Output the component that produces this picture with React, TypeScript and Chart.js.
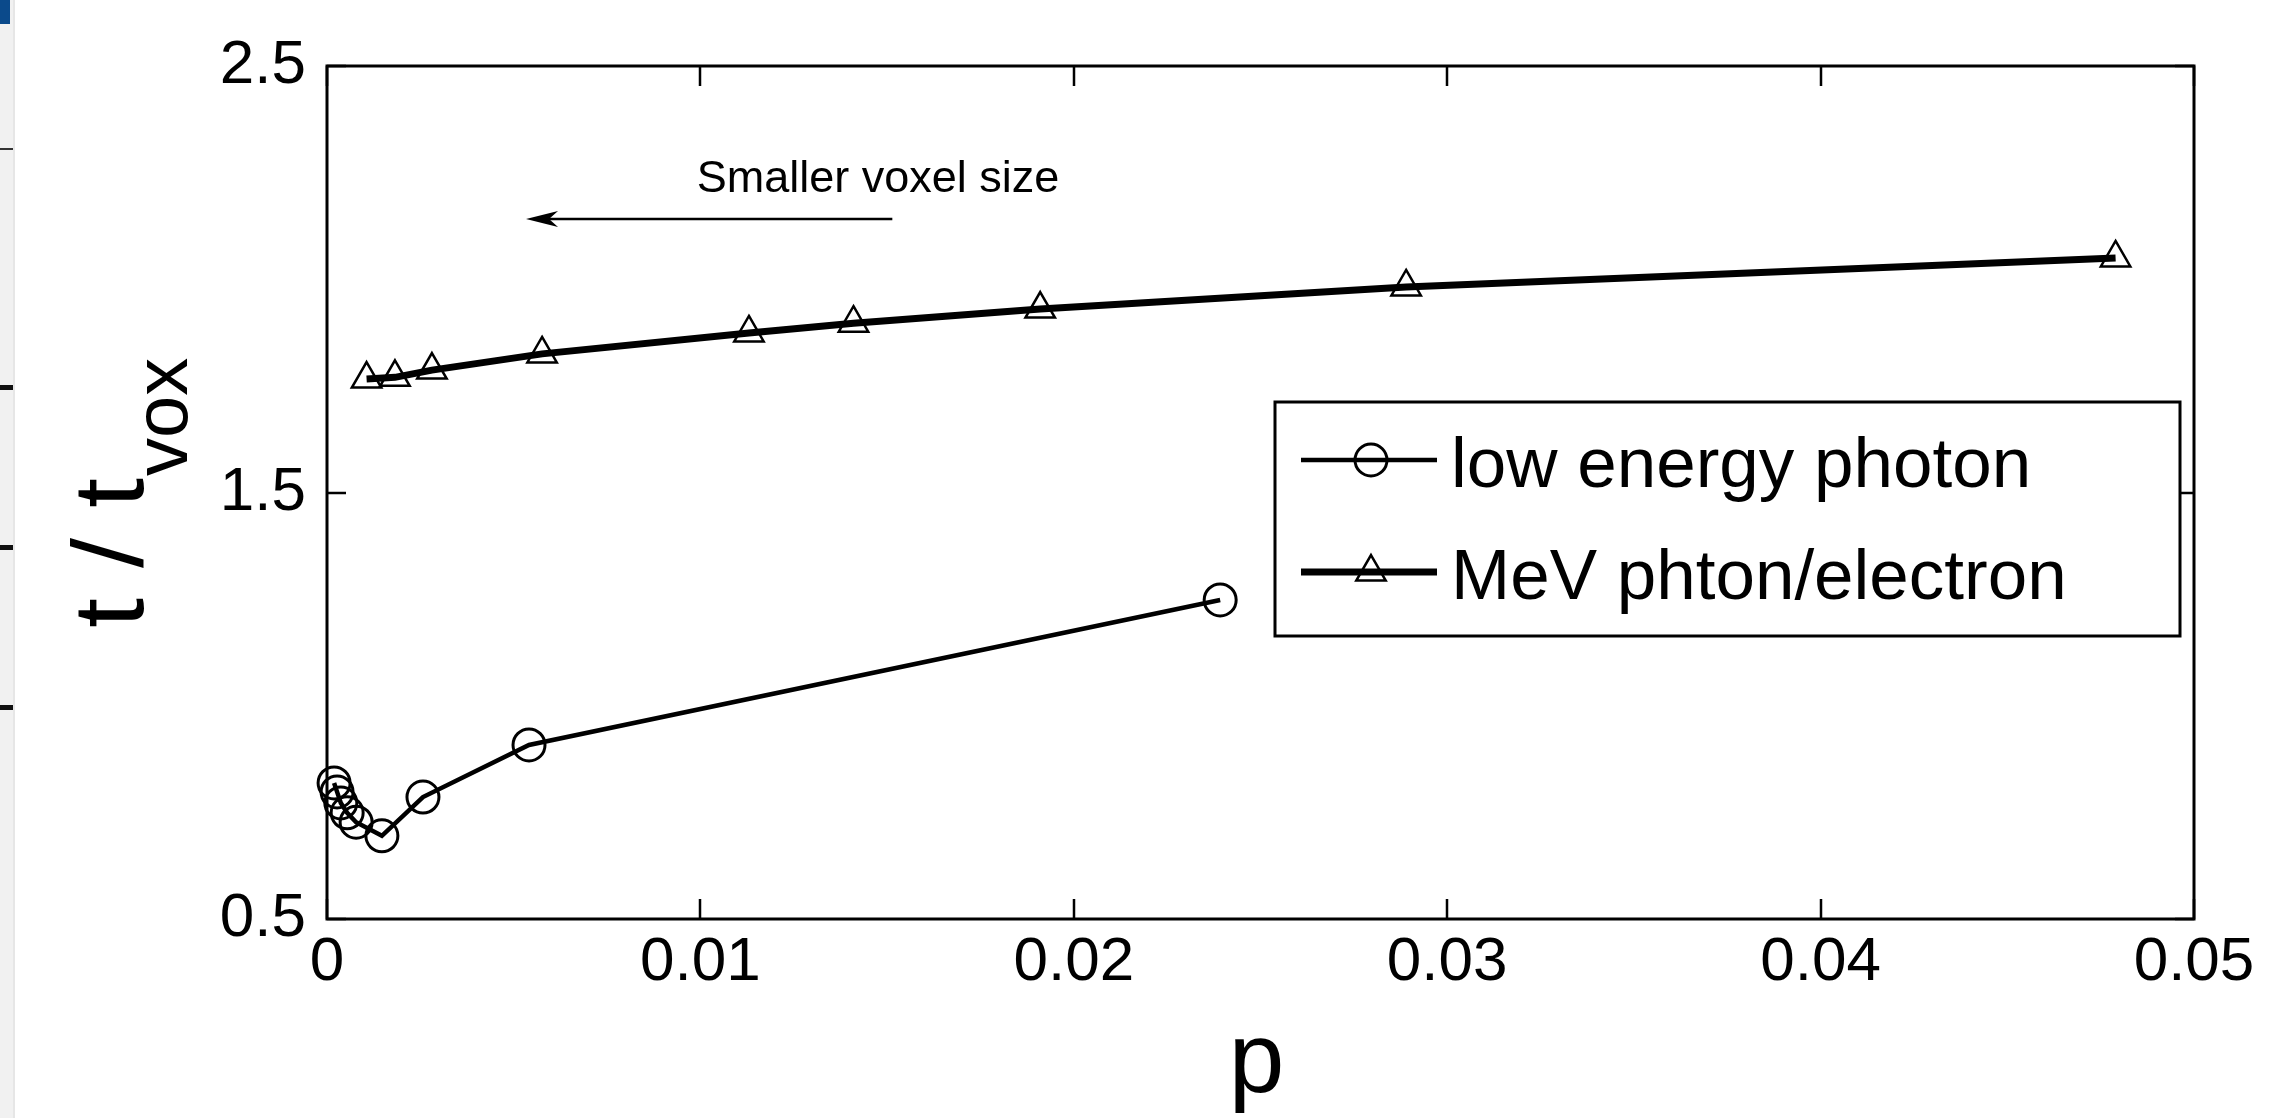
import React, { useEffect, useRef } from "react";
import { Chart, registerables } from "chart.js";

Chart.register(...registerables);

// ---------- data ----------
const lowLabel = "low energy photon";
const lowP = [0.00019, 0.00027, 0.00037, 0.00054, 0.00078, 0.00147, 0.00257, 0.00541, 0.02392];
const lowT = [0.819, 0.798, 0.772, 0.749, 0.727, 0.695, 0.786, 0.908, 1.248];

const mevLabel = "MeV phton/electron";
const mevP = [0.00106, 0.00182, 0.00281, 0.00576, 0.0113, 0.0141, 0.0191, 0.0289, 0.0479];
const mevT = [1.766, 1.77, 1.787, 1.825, 1.874, 1.897, 1.93, 1.982, 2.05];

const xTicks = [0, 0.01, 0.02, 0.03, 0.04, 0.05];
const xTickLabels = ["0", "0.01", "0.02", "0.03", "0.04", "0.05"];
const yTicks = [0.5, 1.5, 2.5];
const yTickLabels = ["0.5", "1.5", "2.5"];

const xTitle = "p";
const yTitleMain = "t / t";
const yTitleSub = "vox";

const noteText = "Smaller voxel size";
const noteAt = [0.0099, 2.205];
const arrowFrom = [0.01514, 2.141];
const arrowTo = [0.00533, 2.141];

const FONT = '"Liberation Sans", Arial, Helvetica, sans-serif';

function drawTriangle(ctx: CanvasRenderingContext2D, x: number, y: number, r: number) {
  const a = (2 * Math.PI) / 3;
  ctx.beginPath();
  ctx.moveTo(x, y - r);
  ctx.lineTo(x + Math.sin(a) * r, y - Math.cos(a) * r);
  ctx.lineTo(x + Math.sin(2 * a) * r, y - Math.cos(2 * a) * r);
  ctx.closePath();
  ctx.stroke();
}

const decorPlugin = {
  id: "decor",
  afterDraw(chart: any) {
    const { ctx, chartArea: a, scales } = chart;
    const xs = scales.x;
    const ys = scales.y;
    ctx.save();
    ctx.strokeStyle = "#000";
    ctx.fillStyle = "#000";

    // frame
    ctx.lineWidth = 3;
    ctx.strokeRect(a.left, a.top, a.right - a.left, a.bottom - a.top);

    // inward ticks
    ctx.lineWidth = 2.5;
    ctx.beginPath();
    xTicks.forEach((v) => {
      const px = Math.round(xs.getPixelForValue(v));
      ctx.moveTo(px, a.bottom);
      ctx.lineTo(px, a.bottom - 20);
      ctx.moveTo(px, a.top);
      ctx.lineTo(px, a.top + 20);
    });
    yTicks.forEach((v) => {
      const py = Math.round(ys.getPixelForValue(v));
      ctx.moveTo(a.left, py);
      ctx.lineTo(a.left + 19, py);
      ctx.moveTo(a.right, py);
      ctx.lineTo(a.right - 19, py);
    });
    ctx.stroke();

    // annotation text + arrow
    ctx.font = `45px ${FONT}`;
    ctx.textAlign = "left";
    ctx.textBaseline = "alphabetic";
    ctx.fillText(noteText, xs.getPixelForValue(noteAt[0]), ys.getPixelForValue(noteAt[1]));

    const ax0 = xs.getPixelForValue(arrowFrom[0]);
    const ay = ys.getPixelForValue(arrowFrom[1]);
    const ax1 = xs.getPixelForValue(arrowTo[0]);
    ctx.lineWidth = 2.5;
    ctx.beginPath();
    ctx.moveTo(ax0, ay);
    ctx.lineTo(ax1 + 20, ay);
    ctx.stroke();
    ctx.beginPath();
    ctx.moveTo(ax1, ay);
    ctx.lineTo(ax1 + 32, ay - 8);
    ctx.lineTo(ax1 + 23, ay);
    ctx.lineTo(ax1 + 32, ay + 8);
    ctx.closePath();
    ctx.fill();

    // legend
    const lx = a.left + 948;
    const ly = a.top + 336;
    const lw = 905;
    const lh = 234;
    ctx.fillStyle = "#fff";
    ctx.fillRect(lx, ly, lw, lh);
    ctx.strokeStyle = "#000";
    ctx.lineWidth = 3;
    ctx.strokeRect(lx, ly, lw, lh);
    ctx.fillStyle = "#000";
    const rows = [
      { label: lowLabel, y: ly + 58, w: 4.5, marker: "circle" },
      { label: mevLabel, y: ly + 170, w: 7, marker: "triangle" },
    ];
    ctx.font = `71px ${FONT}`;
    rows.forEach((r) => {
      ctx.lineWidth = r.w;
      ctx.beginPath();
      ctx.moveTo(lx + 26, r.y);
      ctx.lineTo(lx + 162, r.y);
      ctx.stroke();
      const mx = lx + 96;
      if (r.marker === "circle") {
        ctx.lineWidth = 3;
        ctx.beginPath();
        ctx.arc(mx, r.y, 16, 0, Math.PI * 2);
        ctx.stroke();
      } else {
        ctx.lineWidth = 2.5;
        drawTriangle(ctx, mx, r.y, 17);
      }
      ctx.fillText(r.label, lx + 176, r.y + 27);
    });

    // x title
    ctx.font = `100px ${FONT}`;
    ctx.textAlign = "center";
    ctx.fillText(xTitle, (a.left + a.right) / 2 - 4, 1092);

    // y title (rotated, with subscript)
    ctx.save();
    ctx.translate(143, 628);
    ctx.rotate(-Math.PI / 2);
    ctx.textAlign = "left";
    ctx.font = `100px ${FONT}`;
    const mw = ctx.measureText(yTitleMain).width;
    ctx.save();
    ctx.scale(1.08, 1);
    ctx.fillText(yTitleMain, 0, 0);
    ctx.restore();
    ctx.font = `76px ${FONT}`;
    ctx.fillText(yTitleSub, mw * 1.08 + 2, 44);
    ctx.restore();

    ctx.restore();
  },
};

export default function App() {
  const ref = useRef<HTMLCanvasElement | null>(null);

  useEffect(() => {
    if (!ref.current) return;
    const chart = new Chart(ref.current, {
      type: "line",
      data: {
        datasets: [
          {
            label: lowLabel,
            data: lowP.map((p, i) => ({ x: p, y: lowT[i] })),
            borderColor: "#000",
            borderWidth: 4.5,
            pointStyle: "circle",
            pointRadius: 16,
            pointBorderWidth: 3,
            pointBorderColor: "#000",
            pointBackgroundColor: "rgba(0,0,0,0)",
            tension: 0,
            clip: false,
          },
          {
            label: mevLabel,
            data: mevP.map((p, i) => ({ x: p, y: mevT[i] })),
            borderColor: "#000",
            borderWidth: 7,
            pointStyle: "triangle",
            pointRadius: 17,
            pointBorderWidth: 2.5,
            pointBorderColor: "#000",
            pointBackgroundColor: "rgba(0,0,0,0)",
            tension: 0,
            clip: false,
          },
        ],
      },
      options: {
        animation: false,
        responsive: false,
        maintainAspectRatio: false,
        devicePixelRatio: 1,
        layout: { padding: { top: 66, right: 96, bottom: 0, left: 0 } },
        plugins: {
          legend: { display: false },
          tooltip: { enabled: false },
          title: { display: false },
        },
        scales: {
          x: {
            type: "linear",
            min: 0,
            max: 0.05,
            grid: { display: false, drawTicks: false },
            border: { display: false },
            afterBuildTicks: (s: any) => {
              s.ticks = xTicks.map((v) => ({ value: v }));
            },
            afterFit: (s: any) => {
              s.height = 199;
            },
            ticks: {
              autoSkip: false,
              maxRotation: 0,
              minRotation: 0,
              padding: 7,
              color: "#000",
              font: { family: FONT, size: 62 },
              callback: (_v: any, i: number) => xTickLabels[i],
            },
          },
          y: {
            type: "linear",
            min: 0.5,
            max: 2.5,
            grid: { display: false, drawTicks: false },
            border: { display: false },
            afterBuildTicks: (s: any) => {
              s.ticks = yTicks.map((v) => ({ value: v }));
            },
            afterFit: (s: any) => {
              s.width = 327;
            },
            ticks: {
              autoSkip: false,
              padding: 21,
              color: "#000",
              font: { family: FONT, size: 62 },
              callback: (_v: any, i: number) => yTickLabels[i],
            },
          },
        },
      },
      plugins: [decorPlugin],
    } as any);
    return () => chart.destroy();
  }, []);

  return (
    <div style={{ position: "absolute", left: 0, top: 0, width: 2290, height: 1118, background: "#fff", overflow: "hidden" }}>
      <canvas ref={ref} width={2290} height={1118} style={{ position: "absolute", left: 0, top: 0, display: "block" }} />
      <div style={{ position: "absolute", left: 0, top: 0, width: 13, height: 1118, background: "#f1f1f1", borderRight: "2px solid #e6e6e6" }} />
      <div style={{ position: "absolute", left: 0, top: 0, width: 10, height: 24, background: "#0b4a8b" }} />
      <div style={{ position: "absolute", left: 0, top: 148, width: 13, height: 2, background: "#333" }} />
      <div style={{ position: "absolute", left: 0, top: 385, width: 13, height: 5, background: "#111" }} />
      <div style={{ position: "absolute", left: 0, top: 545, width: 13, height: 5, background: "#111" }} />
      <div style={{ position: "absolute", left: 0, top: 705, width: 13, height: 5, background: "#111" }} />
    </div>
  );
}
